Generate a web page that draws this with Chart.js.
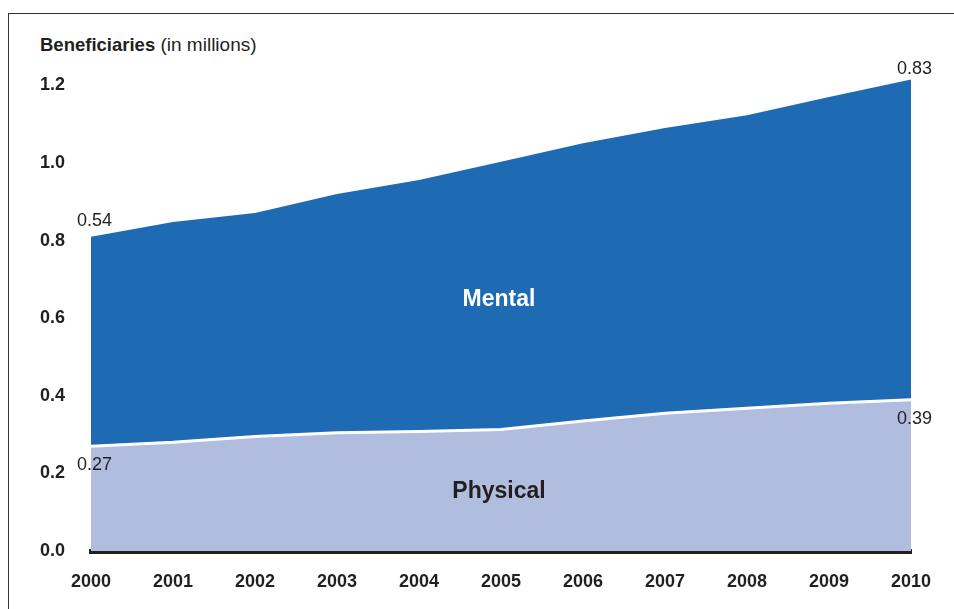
<!DOCTYPE html>
<html>
<head>
<meta charset="utf-8">
<script src="https://cdn.jsdelivr.net/npm/chart.js@4.4.1/dist/chart.umd.min.js"></script>
<style>
	body { margin: 0; background: #fff; font-family: "Liberation Sans", Arial, sans-serif; }
	#wrap { position: relative; width: 954px; height: 609px; overflow: hidden; }
	#frame { position: absolute; left: 8px; top: 13px; width: 960px; height: 620px; border-left: 1px solid #333; border-top: 1px solid #333; }
	#title { position: absolute; left: 40px; top: 34px; font-size: 19px; color: #231f20; white-space: nowrap; }
	#title b { font-weight: bold; font-size: 18.5px; }
	canvas { position: absolute; left: 0; top: 0; }
</style>
</head>
<body>
<div id="wrap">
	<div id="frame"></div>
	<div id="title"><b>Beneficiaries</b> (in millions)</div>
	<canvas id="BeneficiariesChart" width="954" height="609"></canvas>
</div>
<script>
const years = ['2000', '2001', '2002', '2003', '2004', '2005', '2006', '2007', '2008', '2009', '2010']
const physical = [0.27, 0.28, 0.295, 0.305, 0.308, 0.313, 0.335, 0.355, 0.368, 0.381, 0.39]
const mental = [0.54, 0.568, 0.576, 0.615, 0.648, 0.69, 0.716, 0.735, 0.755, 0.789, 0.825]
const yTicks = [0, 0.2, 0.4, 0.6, 0.8, 1.0, 1.2]

// end-point value labels
const endLabels = ['0.27', '0.39', '0.54', '0.83']
// series name labels: [text, index on x, value on y]
const areaNames = ['Physical', 'Mental']
const areaNameIndex = [5, 5]
const areaNameValue = [0.154, 0.648]

const ink = '#231f20'

const labelsPlugin = {
	id: 'labelsPlugin',
	afterDraw(chart) {
		const ctx = chart.ctx
		const x = chart.scales.x
		const y = chart.scales.y
		const last = years.length - 1
		ctx.save()
		ctx.fillStyle = ink
		ctx.font = '18px "Liberation Sans", Arial, sans-serif'
		ctx.textBaseline = 'middle'

		// physical end values, below the line
		ctx.textAlign = 'left'
		ctx.fillText(endLabels[0], x.getPixelForValue(0) - 14, y.getPixelForValue(physical[0]) + 19)
		ctx.textAlign = 'right'
		ctx.fillText(endLabels[1], x.getPixelForValue(last) + 21, y.getPixelForValue(physical[last]) + 19)

		// mental end values, above the top
		ctx.textAlign = 'left'
		ctx.fillText(endLabels[2], x.getPixelForValue(0) - 14, y.getPixelForValue(physical[0] + mental[0]) - 16)
		ctx.textAlign = 'right'
		ctx.fillText(endLabels[3], x.getPixelForValue(last) + 21, y.getPixelForValue(physical[last] + mental[last]) - 11)

		// area names
		ctx.font = 'bold 23px "Liberation Sans", Arial, sans-serif'
		ctx.textAlign = 'center'
		ctx.fillStyle = ink
		ctx.fillText(areaNames[0], x.getPixelForValue(areaNameIndex[0]) - 2, y.getPixelForValue(areaNameValue[0]))
		ctx.fillStyle = '#ffffff'
		ctx.fillText(areaNames[1], x.getPixelForValue(areaNameIndex[1]) - 2, y.getPixelForValue(areaNameValue[1]))
		ctx.restore()
	}
}

const data = {
	labels: years,
	datasets: [{
		label: 'Physical',
		data: physical,
		backgroundColor: '#b0bddf',
		borderColor: '#ffffff',
		borderWidth: 3,
		fill: 'origin',
		pointRadius: 0,
		tension: 0,
	}, {
		label: 'Mental',
		data: mental,
		backgroundColor: '#1e6ab3',
		borderColor: '#1e6ab3',
		borderWidth: 0,
		fill: '-1',
		pointRadius: 0,
		tension: 0,
	}]
}

const config = {
	type: 'line',
	data: data,
	plugins: [labelsPlugin],
	options: {
		responsive: false,
		animation: false,
		events: [],
		layout: {
			padding: { left: 40, right: 43, top: 66, bottom: 0 }
		},
		plugins: {
			legend: { display: false },
			tooltip: { enabled: false }
		},
		scales: {
			x: {
				z: 1,
				offset: false,
				grid: { display: false, drawTicks: false },
				border: { display: true, color: ink, width: 5 },
				ticks: {
					color: ink,
					padding: 20,
					maxRotation: 0,
					autoSkip: false,
					font: { family: '"Liberation Sans", Arial, sans-serif', size: 18, weight: 'bold' }
				},
				afterFit(scale) { scale.height = 58 }
			},
			y: {
				stacked: true,
				min: 0,
				max: 1.25,
				grid: { display: false, drawTicks: false },
				border: { display: false },
				afterBuildTicks(scale) { scale.ticks = yTicks.map(v => ({ value: v })) },
				ticks: {
					color: ink,
					crossAlign: 'far',
					padding: 0,
					font: { family: '"Liberation Sans", Arial, sans-serif', size: 18, weight: 'bold' },
					callback: v => v.toFixed(1)
				},
				afterFit(scale) { scale.width = 51 }
			}
		}
	}
}

const BeneficiariesChart = new Chart(
	document.getElementById('BeneficiariesChart'),
	config
)
</script>
</body>
</html>
